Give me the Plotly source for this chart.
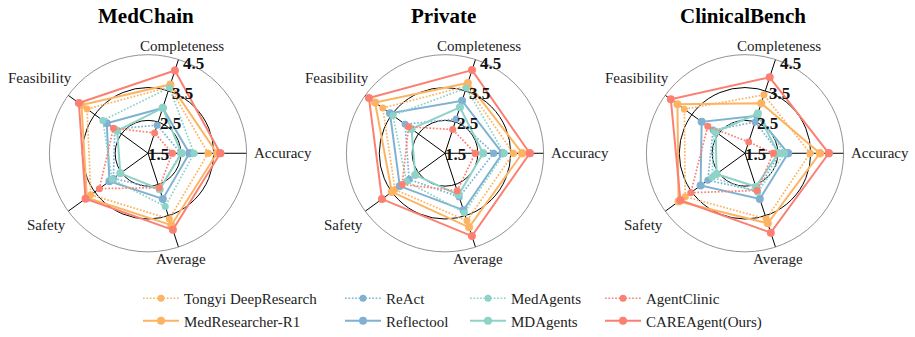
import math
import plotly.graph_objects as go

categories = ["Accuracy", "Completeness", "Feasibility", "Safety", "Average"]
datasets = ["MedChain", "Private", "ClinicalBench"]
radial_ticks = [1.5, 2.5, 3.5, 4.5]
radial_range = [1.5, 4.5]

methods = ["Tongyi DeepResearch", "MedResearcher-R1", "ReAct", "Reflectool",
           "MedAgents", "MDAgents", "AgentClinic", "CAREAgent(Ours)"]

# values per dataset, order: Accuracy, Completeness, Feasibility, Safety, Average
tongyi = [[3.33, 3.62, 3.79, 3.65, 3.60], [3.58, 3.65, 3.84, 3.38, 3.66], [3.48, 3.37, 3.78, 3.75, 3.60]]
medresearcher = [[3.60, 3.70, 4.00, 3.80, 3.80], [3.85, 3.75, 4.13, 3.50, 3.87], [3.78, 3.10, 4.04, 4.00, 3.74]]
react = [[2.50, 2.40, 2.75, 2.80, 2.65], [2.98, 2.60, 3.00, 2.85, 2.90], [2.55, 2.50, 2.70, 2.90, 2.70]]
reflectool = [[2.76, 2.95, 3.05, 2.95, 2.96], [3.25, 3.18, 3.57, 3.20, 3.32], [2.81, 2.70, 3.13, 3.17, 2.96]]
medagents = [[2.90, 3.60, 3.20, 2.85, 3.20], [3.30, 3.59, 3.46, 2.95, 3.40], [2.70, 2.77, 2.65, 2.74, 2.75]]
mdagents = [[2.52, 2.95, 2.66, 2.54, 2.65], [2.66, 2.97, 2.76, 2.62, 2.83], [2.51, 2.77, 2.60, 2.57, 2.57]]
agentclinic = [[2.24, 2.15, 2.80, 3.33, 2.60], [2.42, 2.26, 2.87, 3.11, 2.70], [2.36, 1.86, 2.90, 3.54, 2.69]]
careagent = [[3.70, 4.15, 4.10, 3.85, 3.95], [4.08, 4.16, 4.36, 3.87, 4.15], [4.05, 3.93, 4.29, 3.93, 4.04]]

series_values = [tongyi, medresearcher, react, reflectool, medagents, mdagents, agentclinic, careagent]

ORANGE = "#FDB462"
BLUE = "#80B1D3"
TEAL = "#8DD3C7"
RED = "#FB8072"
colors = [ORANGE, ORANGE, BLUE, BLUE, TEAL, TEAL, RED, RED]
dashes = ["dot", "solid", "dot", "solid", "dot", "solid", "dot", "solid"]
legend_ids = ["legend", "legend", "legend2", "legend2", "legend3", "legend3", "legend4", "legend4"]

SERIF = "Liberation Serif, Times New Roman, serif"
W, H = 915, 337
centers = [148, 445, 745]
cy = 157
R = 101
TICK_ANGLE = 72  # radial labels sit along the Completeness spoke

# category label placement (pixel offsets from each radar centre)
label_offsets = [(104, 0, "left"), (34, -110, "center"), (-108, -77, "center"),
                 (-102, 73, "center"), (33, 108, "center")]

fig = go.Figure()
subplots = ["polar", "polar2", "polar3"]
for d, sp in enumerate(subplots):
    for m, name in enumerate(methods):
        vals = series_values[m][d]
        solid = dashes[m] == "solid"
        fig.add_trace(go.Scatterpolar(
            r=vals + vals[:1],
            theta=categories + categories[:1],
            mode="lines+markers",
            name=name,
            subplot=sp,
            legend=legend_ids[m],
            showlegend=(d == 0),
            line=dict(color=colors[m], width=2.0 if solid else 1.7,
                      dash="solid" if solid else "1.7px,1.7px"),
            marker=dict(color=colors[m], size=8 if solid else 7),
        ))

layout = dict(
    width=W, height=H,
    margin=dict(l=0, r=0, t=0, b=0),
    paper_bgcolor="white",
    plot_bgcolor="white",
    font=dict(family=SERIF, size=14, color="#222"),
    showlegend=True,
)
for i, sp in enumerate(subplots):
    cx = centers[i]
    layout[sp] = dict(
        domain=dict(x=[(cx - R) / W, (cx + R) / W], y=[1 - (cy + R) / H, 1 - (cy - R) / H]),
        bgcolor="white",
        angularaxis=dict(
            rotation=0, direction="counterclockwise",
            categoryorder="array", categoryarray=categories,
            showline=True, linecolor="#777", linewidth=0.8,
            showgrid=True, gridcolor="black", gridwidth=1,
            ticks="", showticklabels=False,
        ),
        radialaxis=dict(
            range=radial_range, tickvals=radial_ticks,
            angle=TICK_ANGLE, showline=False, showticklabels=False,
            showgrid=True, gridcolor="black", gridwidth=1, ticks="",
        ),
    )

legend_x = [143, 345, 470, 605]
for j, lid in enumerate(["legend", "legend2", "legend3", "legend4"]):
    layout[lid] = dict(
        x=(legend_x[j] - 5) / W, xanchor="left",
        y=1 - 289 / H, yanchor="top",
        orientation="v", bgcolor="rgba(0,0,0,0)",
        font=dict(family=SERIF, size=15, color="#222"),
        itemwidth=36,
    )

annotations = []
ca, sa = math.cos(math.radians(TICK_ANGLE)), math.sin(math.radians(TICK_ANGLE))
for i, name in enumerate(datasets):
    cx = centers[i]
    annotations.append(dict(
        text="<b>%s</b>" % name, x=(cx - 2) / W, y=1 - 16 / H,
        xref="paper", yref="paper", xanchor="center", yanchor="middle",
        showarrow=False, font=dict(family=SERIF, size=21, color="black"),
    ))
    for k, cat in enumerate(categories):
        dx, dy, anchor = label_offsets[k]
        annotations.append(dict(
            text=cat, x=(cx + dx) / W, y=1 - (cy + dy) / H,
            xref="paper", yref="paper", xanchor=anchor, yanchor="middle",
            showarrow=False, font=dict(family=SERIF, size=15, color="#222"),
        ))
    # radial tick labels, placed along the radial axis using its scale
    for t in radial_ticks:
        rp = (t - radial_range[0]) / (radial_range[1] - radial_range[0]) * R
        px = cx + rp * ca
        py = cy - rp * sa
        annotations.append(dict(
            text="<b>%s</b>" % t, x=(px - 2 + 0.04 * rp) / W, y=1 - (py + 1 + 0.03 * rp) / H,
            xref="paper", yref="paper", xanchor="left", yanchor="middle",
            showarrow=False, font=dict(family=SERIF, size=17, color="#111"),
        ))
layout["annotations"] = annotations

fig.update_layout(**layout)
fig.write_html("out.html")
